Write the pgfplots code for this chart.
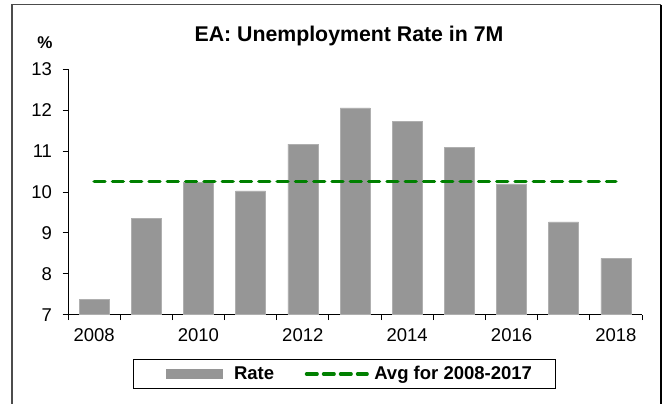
\documentclass[border=0pt]{standalone}
\usepackage{fontspec}
\setmainfont{Liberation Sans}
\usepackage{pgfplots}
\pgfplotsset{compat=1.18}
\definecolor{barc}{RGB}{150,150,150}
\definecolor{bared}{RGB}{175,175,175}
\definecolor{avgc}{RGB}{0,128,0}
\begin{document}
\begin{tikzpicture}[x=1bp,y=1bp]
\useasboundingbox (0,0) rectangle (667,403);
\fill[white] (0,0) rectangle (667,403);
\draw[line width=1.2bp, black!70] (12,-5) -- (12,398.3) -- (660.7,398.3);
\draw[line width=1.6bp, black] (660.7,398.3) -- (660.7,-5);
\begin{axis}[
  at={(68bp,88.3bp)}, anchor=south west,
  scale only axis, width=574bp, height=245.4bp,
  xmin=2007.5, xmax=2018.5, ymin=7, ymax=13,
  axis x line*=bottom, axis y line*=left,
  axis line style={-, black, line width=0.9bp},
  ytick={7,8,9,10,11,12,13},
  xtick={2007.5,2008.5,2009.5,2010.5,2011.5,2012.5,2013.5,2014.5,2015.5,2016.5,2017.5,2018.5},
  xticklabels={},
  extra x ticks={2008,2010,2012,2014,2016,2018},
  extra x tick labels={2008,2010,2012,2014,2016,2018},
  extra x tick style={major tick length=0pt, xticklabel style={yshift=-10.5bp}},
  yticklabel style={xshift=-7bp},
  tick align=outside,
  major tick length=5.5bp,
  tick style={black, line width=0.9bp},
  /pgf/number format/assume math mode=true,
  tick label style={font=\fontsize{18.5bp}{20bp}\selectfont},
  legend style={at={(0.4817,-0.2416)}, anchor=center, draw=black, line width=1bp,
    inner xsep=18.2bp, inner ysep=4bp,
    font=\bfseries\fontsize{18.5bp}{20bp}\selectfont,
    nodes={inner xsep=5.5bp, inner ysep=3bp},
    /tikz/every even column/.append style={column sep=25.2bp}},
  legend columns=2,
]
\addplot[ybar, bar width=30bp, bar shift=0pt, fill=barc, draw=bared, line width=0.5bp,
  legend image code/.code={\fill[barc, draw=none] (14.5bp,-5bp) rectangle (71.5bp,5bp); \path[draw=none, fill=none] (0bp,0bp) rectangle (77bp,0.1bp);}]
  coordinates {(2008,7.38) (2009,9.36) (2010,10.23) (2011,10.03) (2012,11.17) (2013,12.06)
               (2014,11.73) (2015,11.09) (2016,10.20) (2017,9.27) (2018,8.38)};
\addlegendentry{Rate}
\addplot[avgc, line width=3.3bp, dash pattern=on 11bp off 7.3bp, line cap=round,
  legend image code/.code={\draw[avgc, line width=3.3bp, line cap=round, dash pattern=on 10.7bp off 6.3bp] (1.65bp,0bp) -- (62.35bp,0bp);}]
  coordinates {(2008,10.25) (2018,10.25)};
\addlegendentry{Avg for 2008-2017}
\end{axis}
\node[anchor=base, font=\bfseries\fontsize{21.3bp}{24bp}\selectfont] at (349,362) {EA: Unemployment Rate in 7M};
\node[anchor=base, font=\bfseries\fontsize{17bp}{20bp}\selectfont] at (45,355) {\%};
\end{tikzpicture}
\end{document}
